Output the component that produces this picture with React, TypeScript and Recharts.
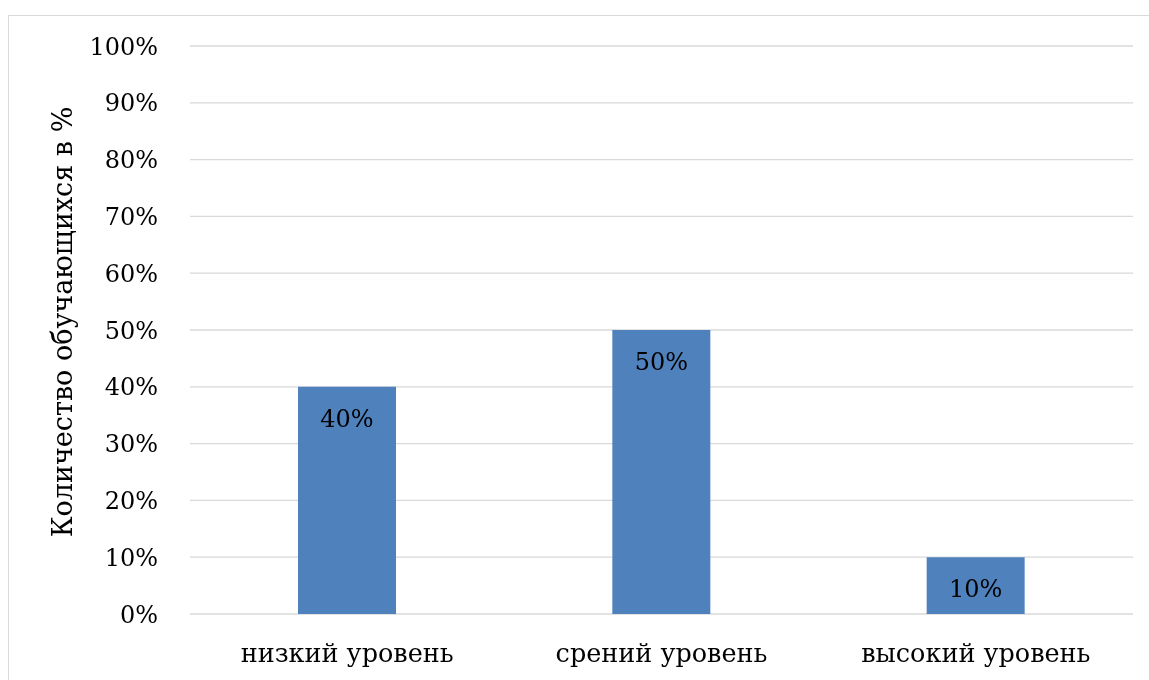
import {
  BarChart,
  Bar,
  XAxis,
  YAxis,
  CartesianGrid,
  LabelList,
  Label,
} from 'recharts';

const levels = ['низкий уровень', 'срений уровень', 'высокий уровень'];
const shares = [40, 50, 10];
const yTicks = [0, 10, 20, 30, 40, 50, 60, 70, 80, 90, 100];

const data = levels.map((level, i) => ({ level, share: shares[i] }));

const font = '"DejaVu Serif", serif';
const pct = (v: number) => `${v}%`;

export default function App() {
  return (
    <div style={{ position: 'relative', width: 1141, height: 664, fontFamily: font }}>
      <div
        style={{
          position: 'fixed',
          left: 8,
          top: 15,
          right: -20,
          bottom: -20,
          border: '1px solid #d9d9d9',
        }}
      />
      <BarChart
        width={1141}
        height={664}
        data={data}
        margin={{ top: 38, right: 16, bottom: 0, left: 0 }}
        style={{ position: 'absolute', left: 0, top: 0 }}
      >
        <CartesianGrid vertical={false} stroke="#d9d9d9" strokeWidth={1.3} />
        <XAxis
          dataKey="level"
          axisLine={false}
          tickLine={false}
          tickSize={0}
          tickMargin={30}
          height={58}
          interval={0}
          tick={{ fill: '#000', fontSize: 25.5, fontFamily: font }}
        />
        <YAxis
          domain={[0, 100]}
          ticks={yTicks}
          tickFormatter={pct}
          axisLine={false}
          tickLine={false}
          tickSize={0}
          tickMargin={32}
          width={182}
          tick={{ fill: '#000', fontSize: 24, fontFamily: font }}
        >
          <Label
            value="Количество обучающихся в %"
            angle={-90}
            position="center"
            dx={-37}
            dy={-8}
            fill="#000"
            fontSize={27}
            fontFamily={font}
          />
        </YAxis>
        <Bar dataKey="share" fill="#4f81bd" barSize={98} isAnimationActive={false}>
          <LabelList
            dataKey="share"
            position="insideTop"
            offset={23}
            formatter={pct}
            fill="#000"
            fontSize={24}
            fontFamily={font}
          />
        </Bar>
      </BarChart>
    </div>
  );
}
